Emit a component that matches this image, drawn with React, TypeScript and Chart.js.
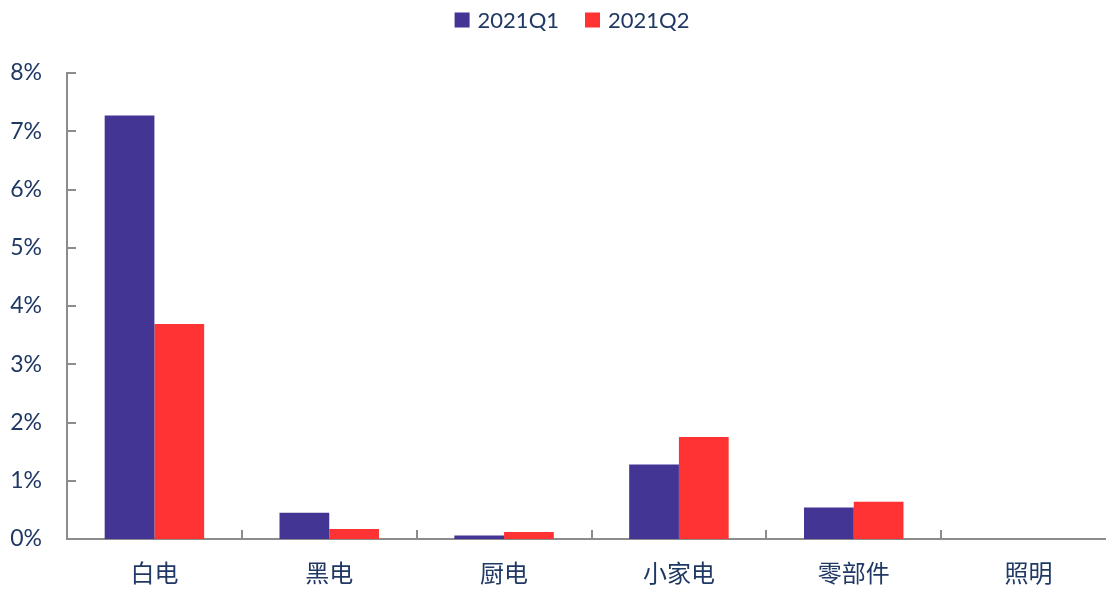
import React, { useEffect, useRef } from "react";
import { Chart, registerables } from "chart.js";

Chart.register(...registerables);

const categories = ["白电", "黑电", "厨电", "小家电", "零部件", "照明"];
const seriesNames = ["2021Q1", "2021Q2"];
const q1Values = [7.27, 0.45, 0.06, 1.28, 0.54, 0];
const q2Values = [3.69, 0.17, 0.12, 1.75, 0.64, 0];
const yTickValues = [0, 1, 2, 3, 4, 5, 6, 7, 8];

const TEXT = "#1F3864";
const AXIS = "#8C8C8C";
const LEGEND_FONT = "22px Lato, 'Noto Sans'";

const innerTicks = {
  id: "innerTicks",
  afterDraw(chart: any) {
    const { ctx, chartArea, scales } = chart;
    const x = scales.x;
    const y = scales.y;
    ctx.save();
    ctx.strokeStyle = AXIS;
    ctx.lineWidth = 2;
    ctx.beginPath();
    y.ticks.forEach((_t: any, i: number) => {
      const py = Math.round(y.getPixelForTick(i));
      ctx.moveTo(chartArea.left, py);
      ctx.lineTo(chartArea.left + 9, py);
    });
    const n = categories.length;
    for (let i = 0; i <= n; i++) {
      const px = Math.round(x.left + (i * x.width) / n);
      ctx.moveTo(px, chartArea.bottom);
      ctx.lineTo(px, chartArea.bottom - 9);
    }
    ctx.stroke();
    ctx.restore();
  },
};

const topLegend = {
  id: "topLegend",
  afterDraw(chart: any) {
    const { ctx } = chart;
    const ds = chart.data.datasets;
    ctx.save();
    ctx.font = LEGEND_FONT;
    const box = 15;
    const gapText = 8;
    const gapItem = 26;
    const widths = ds.map((d: any) => box + gapText + ctx.measureText(d.label).width);
    const total = widths.reduce((a: number, b: number) => a + b, 0) + gapItem * (ds.length - 1);
    let x = 572 - total / 2;
    const cy = 20;
    ds.forEach((d: any, i: number) => {
      ctx.fillStyle = d.backgroundColor;
      ctx.fillRect(x, cy - box / 2, box, box);
      ctx.fillStyle = TEXT;
      ctx.textBaseline = "middle";
      ctx.textAlign = "left";
      ctx.fillText(d.label, x + box + gapText, cy + 1);
      x += widths[i] + gapItem;
    });
    ctx.restore();
  },
};

export default function App() {
  const ref = useRef<HTMLCanvasElement | null>(null);
  useEffect(() => {
    if (!ref.current) return;
    const chart = new Chart(ref.current, {
      type: "bar",
      data: {
        labels: categories,
        datasets: [
          { label: seriesNames[0], data: q1Values, backgroundColor: "#433594", borderWidth: 0 },
          { label: seriesNames[1], data: q2Values, backgroundColor: "#FF3333", borderWidth: 0 },
        ],
      },
      options: {
        animation: false,
        responsive: false,
        devicePixelRatio: 1,
        layout: { padding: { top: 73, left: 0, right: 0, bottom: 0 } },
        datasets: { bar: { categoryPercentage: 0.569, barPercentage: 1 } },
        plugins: {
          legend: { display: false },
          tooltip: { enabled: false },
        },
        scales: {
          x: {
            grid: { display: false, drawTicks: false },
            border: { display: true, color: AXIS, width: 2 },
            ticks: {
              color: TEXT,
              padding: 19,
              font: { family: "'Noto Sans CJK SC'", size: 24 },
            },
            afterFit: (s: any) => {
              s.height = 50;
            },
          },
          y: {
            min: 0,
            max: 8,
            afterBuildTicks: (s: any) => {
              s.ticks = yTickValues.map((v) => ({ value: v }));
            },
            grid: { display: false, drawTicks: false },
            border: { display: true, color: AXIS, width: 2 },
            ticks: {
              color: TEXT,
              padding: 25,
              font: { family: "Lato, 'Noto Sans'", size: 23 },
              callback: (v: any) => v + "%",
            },
            afterFit: (s: any) => {
              s.width = 67;
            },
          },
        },
      },
      plugins: [innerTicks, topLegend],
    });
    return () => chart.destroy();
  }, []);
  return (
    <div
      style={{
        position: "fixed",
        left: 0,
        top: 0,
        width: 1106,
        height: 589,
        overflow: "hidden",
        background: "#fff",
      }}
    >
      <canvas ref={ref} width={1116} height={589} style={{ display: "block" }} />
    </div>
  );
}
